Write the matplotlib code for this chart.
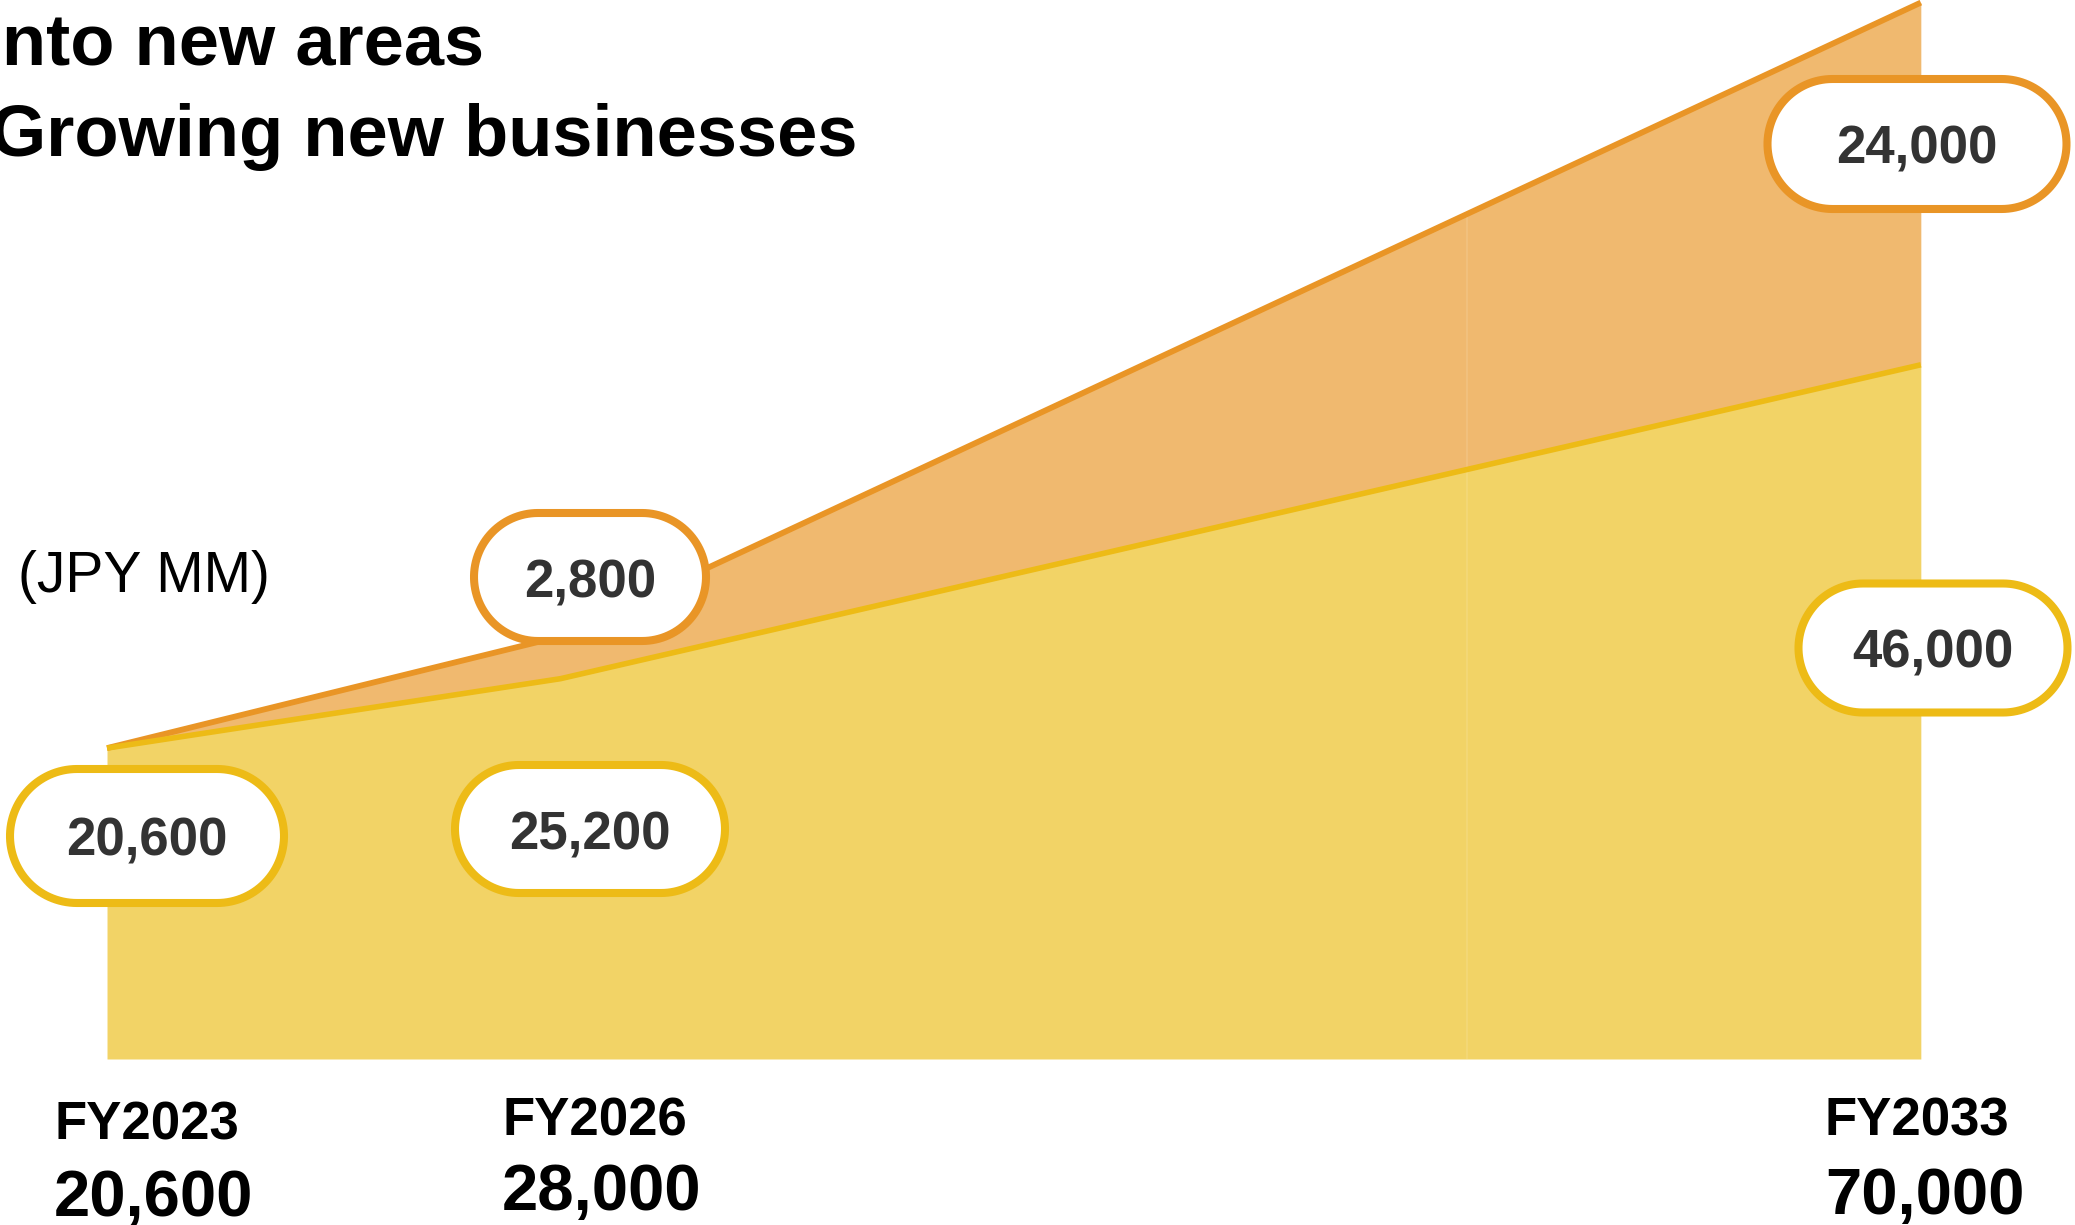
import numpy as np
import matplotlib
matplotlib.use("Agg")
import matplotlib.pyplot as plt
from matplotlib.patches import Polygon

plt.rcParams['font.family'] = ['Liberation Sans', 'DejaVu Sans']

# revenue plan, JPY MM
years = ["FY2023", "FY2026", "FY2033"]
x_pos = [0, 1, 4]
existing = [20600, 25200, 46000]
new_biz = [0, 2800, 24000]
totals = [20600, 28000, 70000]

YEL_FILL = "#F2D366"
YEL_LINE = "#EDBB16"
ORA_FILL = "#F0B96F"
ORA_LINE = "#E99526"
TXT = "#333333"

fig = plt.figure(figsize=(20.75, 12.25), dpi=100)
ax = fig.add_axes([0, 0, 1, 1])
ax.set_xlim(-0.236, 4.34)
ax.set_ylim(-11000, 70172)
ax.axis("off")

x = np.array(x_pos)
base = np.array(existing)
top = base + np.array(new_biz)

ax.fill_between(x, 0, base, color=YEL_FILL, lw=0, zorder=1)
ax.fill_between(x, base, top, color=ORA_FILL, lw=0, zorder=1)
ax.plot(x, top, color=ORA_LINE, lw=4.2, solid_capstyle="butt", zorder=3)
ax.plot(x, base, color=YEL_LINE, lw=4.0, solid_capstyle="butt", zorder=4)

# faint seam between the two fill pieces
seam = ax.axvline(3, color="white", alpha=0.12, lw=1.2, zorder=2)
outline = ax.fill_between(x, 0, top, color="none", lw=0)
seam.set_clip_path(outline.get_paths()[0], ax.transData)

# overlay in pixel units for labels and bubbles
ov = fig.add_axes([0, 0, 1, 1])
ov.set_xlim(0, 2075)
ov.set_ylim(1225, 0)
ov.axis("off")
ov.patch.set_alpha(0)

def bubble(cx, cy, w, h, color, text):
    lw_px = 8
    w2, h2 = w - lw_px, h - lw_px
    r = h2 / 2
    t = np.linspace(-np.pi / 2, np.pi / 2, 60)
    right = np.column_stack([cx + w2 / 2 - r + r * np.cos(t), cy + r * np.sin(t)])
    left = np.column_stack([cx - w2 / 2 + r - r * np.cos(t), cy - r * np.sin(t)])
    pts = np.vstack([right, left])
    ov.add_patch(Polygon(pts, closed=True, fc="white", ec=color, lw=5.8))
    ov.text(cx, cy + 6, text, ha="center", va="center", fontsize=38,
            fontweight="bold", color=TXT)

bubble(147, 836, 282, 142, YEL_LINE, f"{existing[0]:,}")
bubble(590, 829, 278, 136, YEL_LINE, f"{existing[1]:,}")
bubble(590, 577, 240, 136, ORA_LINE, f"{new_biz[1]:,}")
bubble(1917, 144, 307, 138, ORA_LINE, f"{new_biz[2]:,}")
bubble(1933, 648, 277, 137, YEL_LINE, f"{existing[2]:,}")

# titles
ov.text(484, 66, "nto new areas", ha="right", va="baseline",
        fontsize=52, fontweight="bold", color="black")
ov.text(857, 156, "Growing new businesses", ha="right", va="baseline",
        fontsize=52, fontweight="bold", color="black")
ov.text(18, 577, "(JPY MM)", ha="left", va="center", fontsize=41,
        color="black")

# year / total labels under the chart (baselines)
label_x = [54, 502, 1825]
label_y = [1140, 1136, 1136]
total_y = [1216, 1210, 1214]
for lx, ly, ty, yr, tot in zip(label_x, label_y, total_y, years, totals):
    ov.text(lx, ly, yr, ha="left", va="baseline", fontsize=38,
            fontweight="bold", color="black")
    ov.text(lx, ty, f"{tot:,}", ha="left", va="baseline", fontsize=47,
            fontweight="bold", color="black")

fig.savefig("out.png", dpi=100)
